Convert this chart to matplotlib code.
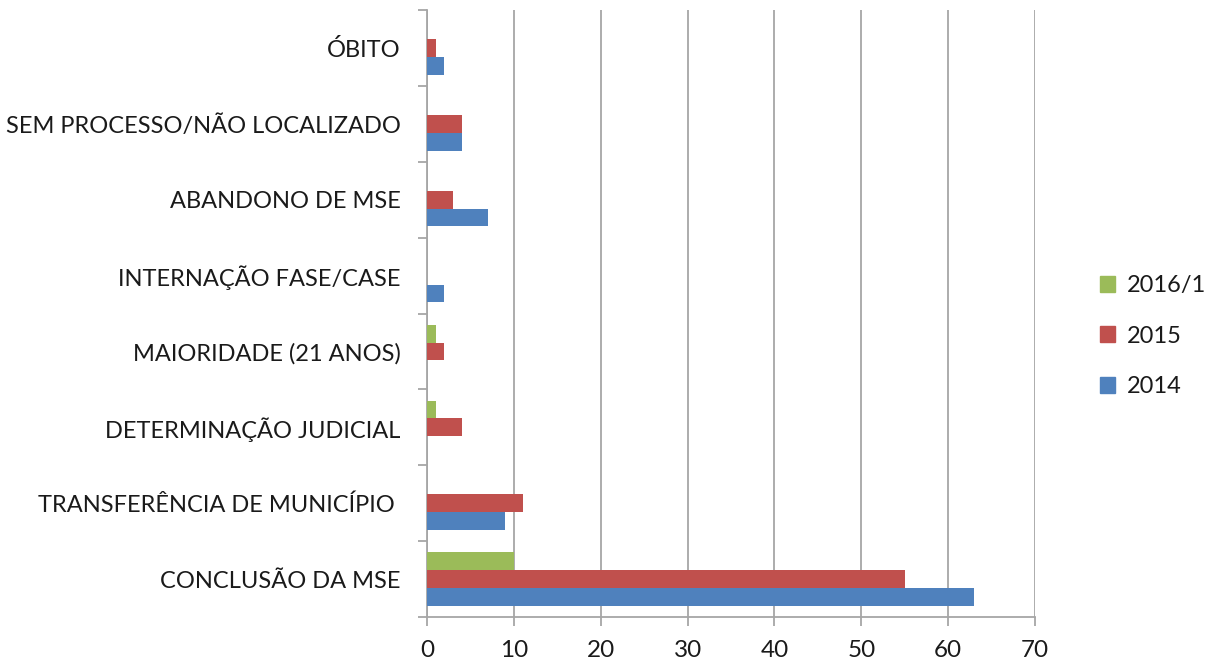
import numpy as np
import matplotlib.pyplot as plt
from matplotlib.patches import Patch

# =========================================================
# DATA
# =========================================================

categories = [
    "CONCLUSÃO DA MSE",
    "TRANSFERÊNCIA DE MUNICÍPIO ",
    "DETERMINAÇÃO JUDICIAL",
    "MAIORIDADE (21 ANOS)",
    "INTERNAÇÃO FASE/CASE",
    "ABANDONO DE MSE",
    "SEM PROCESSO/NÃO LOCALIZADO",
    "ÓBITO",
]

values_2014 = [63, 9, 0, 0, 2, 7, 4, 2]
values_2015 = [55, 11, 4, 2, 0, 3, 4, 1]
values_2016 = [10, 0, 1, 1, 0, 0, 0, 0]

series_names = ["2014", "2015", "2016/1"]
colors = ["#4F81BD", "#C0504D", "#9BBB59"]

x_ticks = [0, 10, 20, 30, 40, 50, 60, 70]

# =========================================================
# FIGURE
# =========================================================

plt.rcParams["font.family"] = ["Lato", "DejaVu Sans"]

fig = plt.figure(figsize=(12.08, 6.68), dpi=100)
ax = fig.add_axes([0.3535, 0.0763, 0.5033, 0.9087])

y = np.arange(len(categories))
h = 0.235

all_series = [values_2014, values_2015, values_2016]
offsets = [-h, 0, h]

for vals, off, col in zip(all_series, offsets, colors):
    ax.barh(y + off, vals, height=h, color=col, zorder=3)

ax.set_xlim(0, 70)
ax.set_ylim(-0.5, len(categories) - 0.5)
ax.set_xticks(x_ticks)
ax.set_yticks(y)
ax.set_yticklabels(categories)
ax.set_yticks(np.arange(-0.5, len(categories), 1), minor=True)

grid_col = "#A6A6A6"
ax.grid(axis="x", color=grid_col, linewidth=1.3, zorder=0)

for side in ["top", "right"]:
    ax.spines[side].set_visible(False)
ax.spines["left"].set_color(grid_col)
ax.spines["bottom"].set_color(grid_col)
ax.spines["left"].set_linewidth(1.3)
ax.spines["bottom"].set_linewidth(1.3)

text_col = "#1A1A1A"

ax.tick_params(axis="y", which="major", length=0, pad=19,
               labelsize=17, labelcolor=text_col)
ax.tick_params(axis="y", which="minor", length=6.5, width=1.3,
               color=grid_col)
ax.tick_params(axis="x", which="major", length=6.5, width=1.3,
               color=grid_col, pad=10, labelsize=17.5, labelcolor=text_col)

handles = [Patch(color=colors[2]), Patch(color=colors[1]), Patch(color=colors[0])]
labels = [series_names[2], series_names[1], series_names[0]]

fig.legend(
    handles, labels,
    loc="center left",
    bbox_to_anchor=(0.893, 0.497),
    frameon=False,
    fontsize=17,
    labelspacing=1.25,
    handlelength=0.65,
    handleheight=0.65,
    handletextpad=0.5,
    labelcolor=text_col,
)

plt.savefig("out.png", dpi=100)
plt.close()
